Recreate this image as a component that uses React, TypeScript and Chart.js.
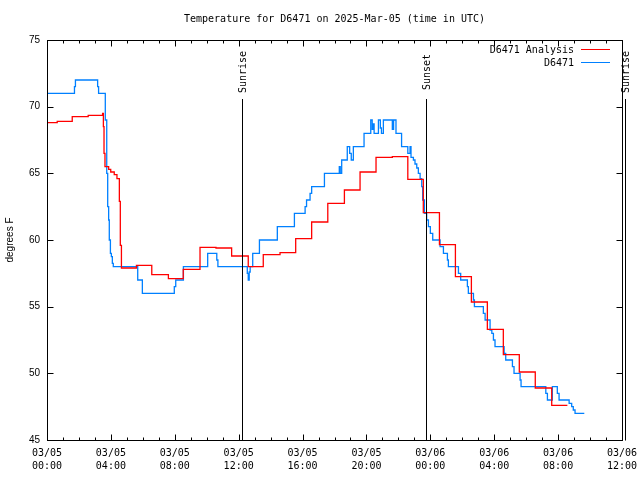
import React, { useEffect, useRef } from "react";
import { Chart, registerables } from "chart.js";

Chart.register(...registerables);

// Hours since 03/05 00:00 UTC
const analysisHours = [0, 0.64, 1.58, 2.58, 3.48, 3.53, 3.57, 3.63, 3.86, 3.99, 4.21, 4.38, 4.53, 4.59, 4.66, 5.6, 6.56, 7.6, 8.53, 9.58, 10.58, 11.56, 12.6, 13.54, 14.59, 15.57, 16.57, 17.58, 18.62, 19.6, 20.6, 21.62, 22.59, 23.56, 24.57, 25.57, 26.57, 27.57, 28.57, 29.57, 30.57, 31.6, 32.58];
const analysisTemps = [68.8, 68.9, 69.25, 69.35, 69.5, 68.5, 66.5, 65.5, 65.3, 65.1, 64.9, 64.6, 62.9, 59.6, 57.9, 58.1, 57.4, 57.1, 57.8, 59.45, 59.4, 58.8, 58.0, 58.9, 59.05, 60.1, 61.35, 62.75, 63.75, 65.1, 66.2, 66.25, 64.55, 62.05, 59.65, 57.25, 55.35, 53.3, 51.4, 50.1, 48.9, 47.6, 47.6];

const stationHours = [0, 1.72, 1.78, 3.17, 3.23, 3.65, 3.74, 3.8, 3.86, 3.9, 3.97, 4.03, 4.09, 4.15, 5.68, 5.97, 7.97, 8.06, 8.54, 10.06, 10.63, 10.7, 12.54, 12.6, 12.66, 12.72, 12.88, 13.3, 14.42, 15.49, 16.16, 16.25, 16.47, 16.57, 17.37, 18.3, 18.36, 18.45, 18.8, 18.95, 19.05, 19.18, 19.85, 20.27, 20.36, 20.42, 20.48, 20.75, 20.87, 20.94, 21.06, 21.62, 21.7, 21.85, 22.2, 22.59, 22.73, 22.79, 22.94, 23.04, 23.15, 23.25, 23.36, 23.46, 23.52, 23.63, 23.77, 23.88, 24.0, 24.15, 24.61, 24.82, 25.07, 25.13, 25.76, 25.9, 26.32, 26.38, 26.7, 26.76, 27.32, 27.43, 27.74, 27.85, 27.95, 28.05, 28.62, 28.72, 29.14, 29.24, 29.62, 29.68, 31.23, 31.33, 31.64, 31.95, 32.06, 32.69, 32.85, 32.95, 33.06, 33.64];
const stationTemps = [71, 71.5, 72, 71.5, 71, 69, 65, 62.5, 61.5, 60, 59, 58.75, 58.25, 58, 57, 56, 56.5, 57, 58, 59, 58.5, 58, 57.5, 57, 57.6, 58, 59, 60, 61, 62, 62.5, 63, 63.5, 64, 65, 65.5, 65, 66, 67, 66.5, 66, 67, 68, 69, 68.3, 68.7, 68, 69, 68.4, 68, 69, 68.3, 69, 68, 67, 66.5, 67, 66.2, 66, 65.7, 65.4, 65, 64.6, 64, 63, 62, 61.5, 61, 60.5, 60, 59.5, 59, 58.5, 58, 57.5, 57, 56.5, 56, 55.5, 55, 54.5, 54, 53.25, 53, 52.5, 52, 51.5, 51, 50.5, 50, 49.5, 49, 48.5, 48, 49, 48.5, 48, 47.75, 47.5, 47.25, 47, 47];

const xTickDates = ["03/05", "03/05", "03/05", "03/05", "03/05", "03/05", "03/06", "03/06", "03/06", "03/06"];
const xTickTimes = ["00:00", "04:00", "08:00", "12:00", "16:00", "20:00", "00:00", "04:00", "08:00", "12:00"];

const sunEventHours = [12.21, 23.75, 36.19];
const sunEventLabels = ["Sunrise", "Sunset", "Sunrise"];

const titleText = "Temperature for D6471 on 2025-Mar-05 (time in UTC)";
const seriesNames = ["D6471 Analysis", "D6471"];
const seriesColors = ["#ff0000", "#0080ff"];

const MONO = '"DejaVu Sans Mono", monospace';
const SANS = '"Liberation Sans", Arial, sans-serif';

const decorPlugin = {
  id: "decor",
  afterDatasetsDraw(chart: any) {
    const { ctx, chartArea, scales } = chart;
    const { left, right, top, bottom } = chartArea;
    const xs = scales.x;
    const ys = scales.y;
    const L = Math.round(left) + 0.5;
    const R = Math.round(right) + 0.5;
    const T = Math.round(top) + 0.5;
    const B = Math.round(bottom) + 0.5;
    ctx.save();
    ctx.strokeStyle = "#000";
    ctx.lineWidth = 1;
    ctx.strokeRect(L, T, R - L, B - T);
    ctx.beginPath();
    for (let h = 0; h <= 36; h++) {
      const px = Math.round(xs.getPixelForValue(h)) + 0.5;
      const len = h % 4 === 0 ? 6 : 3;
      ctx.moveTo(px, B);
      ctx.lineTo(px, B - len);
      ctx.moveTo(px, T);
      ctx.lineTo(px, T + len);
    }
    for (let v = 45; v <= 75; v += 5) {
      const py = Math.round(ys.getPixelForValue(v)) + 0.5;
      ctx.moveTo(L, py);
      ctx.lineTo(L + 6, py);
      ctx.moveTo(R, py);
      ctx.lineTo(R - 6, py);
    }
    ctx.stroke();
    ctx.font = `10px ${MONO}`;
    ctx.fillStyle = "#000";
    sunEventHours.forEach((h, i) => {
      const px = Math.round(xs.getPixelForValue(h)) + 0.5;
      ctx.beginPath();
      ctx.moveTo(px, 99);
      ctx.lineTo(px, B);
      ctx.stroke();
      ctx.save();
      ctx.translate(px + 1, 72);
      ctx.rotate(-Math.PI / 2);
      ctx.textAlign = "center";
      ctx.textBaseline = "middle";
      ctx.fillText(sunEventLabels[i], 0, 0);
      ctx.restore();
    });
    ctx.textAlign = "center";
    ctx.textBaseline = "middle";
    ctx.fillText(titleText, (left + right) / 2, 19);
    ctx.textAlign = "right";
    seriesNames.forEach((name, i) => {
      const yy = 50 + i * 13;
      ctx.fillStyle = "#000";
      ctx.fillText(name, 574, yy);
      ctx.strokeStyle = seriesColors[i];
      ctx.beginPath();
      ctx.moveTo(581, yy - 0.5);
      ctx.lineTo(610, yy - 0.5);
      ctx.stroke();
    });
    ctx.restore();
  },
};

export default function App() {
  const ref = useRef<HTMLCanvasElement>(null);
  useEffect(() => {
    if (!ref.current) return;
    const chart = new Chart(ref.current, {
      type: "line",
      data: {
        datasets: [
          {
            label: seriesNames[0],
            data: analysisHours.map((h, i) => ({ x: h, y: analysisTemps[i] })),
            borderColor: seriesColors[0],
            borderWidth: 1.3,
            pointRadius: 0,
            stepped: "before",
            fill: false,
          },
          {
            label: seriesNames[1],
            data: stationHours.map((h, i) => ({ x: h, y: stationTemps[i] })),
            borderColor: seriesColors[1],
            borderWidth: 1.3,
            pointRadius: 0,
            stepped: "before",
            fill: false,
          },
        ],
      },
      options: {
        responsive: false,
        animation: false,
        events: [],
        layout: { padding: { left: 0, right: 18, top: 40, bottom: 0 } },
        plugins: {
          legend: { display: false },
          title: { display: false },
          tooltip: { enabled: false },
        },
        scales: {
          x: {
            type: "linear",
            min: 0,
            max: 36,
            grid: { display: false, drawTicks: false },
            border: { display: false },
            ticks: {
              stepSize: 4,
              autoSkip: false,
              maxRotation: 0,
              padding: 7,
              color: "#000",
              font: { family: MONO, size: 10, lineHeight: 1.3 },
              callback: (_v: any, i: number) => [xTickDates[i], xTickTimes[i]],
            },
            afterFit: (s: any) => {
              s.height = 40;
              s.paddingLeft = 0;
              s.paddingRight = 0;
            },
          },
          y: {
            type: "linear",
            min: 45,
            max: 75,
            grid: { display: false, drawTicks: false },
            border: { display: false },
            ticks: {
              stepSize: 5,
              padding: 7,
              color: "#000",
              font: { family: SANS, size: 10 },
            },
            title: {
              display: true,
              text: "degrees F",
              color: "#000",
              font: { family: SANS, size: 10 },
              padding: { top: 4, bottom: 0 },
            },
            afterFit: (s: any) => {
              s.width = 47;
              s.paddingTop = 0;
              s.paddingBottom = 0;
            },
          },
        },
      },
      plugins: [decorPlugin],
    } as any);
    return () => chart.destroy();
  }, []);
  return (
    <div style={{ position: "absolute", left: 0, top: 0, width: 640, height: 480, background: "#fff" }}>
      <canvas ref={ref} width={640} height={480} style={{ display: "block" }} />
    </div>
  );
}
